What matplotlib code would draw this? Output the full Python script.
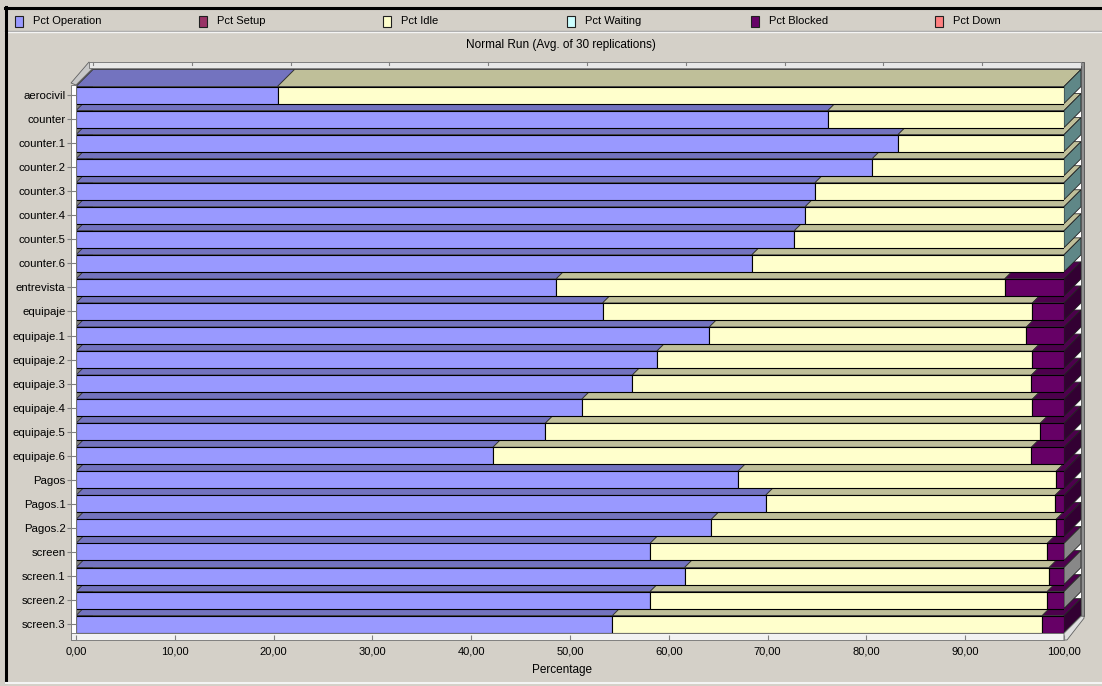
import matplotlib
matplotlib.use("Agg")
import matplotlib.pyplot as plt
from matplotlib.patches import Polygon, Rectangle
from matplotlib.lines import Line2D
from matplotlib.colors import to_rgb
import numpy as np

plt.rcParams['font.family'] = ['Liberation Sans', 'DejaVu Sans']

# data (percent of time, avg. of 30 replications)
resources = ['aerocivil', 'counter', 'counter.1', 'counter.2', 'counter.3',
             'counter.4', 'counter.5', 'counter.6', 'entrevista', 'equipaje',
             'equipaje.1', 'equipaje.2', 'equipaje.3', 'equipaje.4',
             'equipaje.5', 'equipaje.6', 'Pagos', 'Pagos.1', 'Pagos.2',
             'screen', 'screen.1', 'screen.2', 'screen.3']
pct_operation = [20.4, 76.1, 83.2, 80.6, 74.8, 73.8, 72.7, 68.4, 48.6, 53.3,
                 64.1, 58.8, 56.3, 51.2, 47.5, 42.2, 67.0, 69.8, 64.3, 58.1,
                 61.6, 58.1, 54.3]
pct_setup = [0.0, 0.0, 0.0, 0.0, 0.0, 0.0, 0.0, 0.0, 0.0, 0.0, 0.0, 0.0,
             0.0, 0.0, 0.0, 0.0, 0.0, 0.0, 0.0, 0.0, 0.0, 0.0, 0.0]
pct_idle = [79.6, 23.9, 16.8, 19.4, 25.2, 26.2, 27.3, 31.6, 45.4, 43.5,
            32.1, 38.0, 40.4, 45.6, 50.1, 54.5, 32.2, 29.3, 34.9, 40.2,
            36.9, 40.2, 43.5]
pct_waiting = [0.0, 0.0, 0.0, 0.0, 0.0, 0.0, 0.0, 0.0, 0.0, 0.0, 0.0, 0.0,
               0.0, 0.0, 0.0, 0.0, 0.0, 0.0, 0.0, 0.0, 0.0, 0.0, 0.0]
pct_blocked = [0.0, 0.0, 0.0, 0.0, 0.0, 0.0, 0.0, 0.0, 6.0, 3.2, 3.8, 3.2,
               3.3, 3.2, 2.4, 3.3, 0.8, 0.9, 0.8, 1.7, 1.5, 1.7, 2.2]
pct_down = [0.0, 0.0, 0.0, 0.0, 0.0, 0.0, 0.0, 0.0, 0.0, 0.0, 0.0, 0.0,
            0.0, 0.0, 0.0, 0.0, 0.0, 0.0, 0.0, 0.0, 0.0, 0.0, 0.0]
x_ticks = [0, 10, 20, 30, 40, 50, 60, 70, 80, 90, 100]

series = [('Pct Operation', pct_operation, '#9999ff'),
          ('Pct Setup', pct_setup, '#993366'),
          ('Pct Idle', pct_idle, '#ffffcc'),
          ('Pct Waiting', pct_waiting, '#ccffff'),
          ('Pct Blocked', pct_blocked, '#660066'),
          ('Pct Down', pct_down, '#ff8080')]

W, H = 1102, 686
BG = '#d4d0c8'

fig = plt.figure(figsize=(W / 100, H / 100), dpi=100, facecolor=BG)

# plot box in pixels: x=0 -> 76px, x=100 -> 1064px ; rows every 24.05px
ax = fig.add_axes([76 / W, 46 / H, 988 / W, 580 / H])
ax.set_facecolor('none')
PXX = 100 / 988.0
PXY = 1 / 24.05


def row(p):
    # pixel y -> row units
    return (p - 95) / 24.05


def shade(c, f):
    r, g, b = to_rgb(c)
    return (r * f, g * f, b * f)


def add(p, z):
    p.set_zorder(z)
    p.set_clip_on(False)
    ax.add_patch(p)


ax.set_xlim(0, 100)
ax.set_ylim(row(640), row(60))

n = len(resources)
y = np.arange(n)
DX = 17 * PXX
DY = 17 * PXY
HH = 17 * PXY / 2

wall_top = row(68)
floor_y = n - 1 + HH + 0.6 * PXY
floor_bot = row(640)

# walls and floor
add(Polygon([(DX, wall_top), (100 + DX, wall_top), (100 + DX, floor_y - DY),
             (DX, floor_y - DY)], fc='white', ec='none'), 1)
add(Polygon([(0, wall_top + DY), (DX, wall_top), (DX, floor_y - DY),
             (0, floor_y)], fc='#808080', ec='none'), 1.2)
add(Polygon([(0, floor_y), (100, floor_y), (100 + DX, floor_y - DY),
             (DX, floor_y - DY)], fc='#c0c0c0', ec='none'), 1.2)

# bars, drawn bottom row first so upper rows cover the top faces below
left = np.zeros(n)
for name, vals, col in series:
    vals = np.array(vals)
    bars = ax.barh(y, vals, left=left, height=2 * HH, color=col,
                   edgecolor='black', linewidth=0.8)
    for i, b in enumerate(bars):
        z = 10 + 3 * (n - i)
        b.set_zorder(z + 2)
        if vals[i] <= 0:
            b.set_visible(False)
            continue
        x0, x1 = left[i], left[i] + vals[i]
        yt = i - HH
        add(Polygon([(x0, yt), (x1, yt), (x1 + DX, yt - DY), (x0 + DX, yt - DY)],
                    fc=shade(col, 0.75), ec='#303030', lw=0.6), z)
    left += vals

for i in range(n):
    z = 10 + 3 * (n - i)
    if pct_blocked[i] > 0:
        side = '#330033'
        if resources[i] in ('screen', 'screen.1', 'screen.2'):
            side = '#888888'
    else:
        side = '#5f8787'
    x1 = left[i]
    add(Polygon([(x1, i - HH), (x1, i + HH), (x1 + DX, i + HH - DY),
                 (x1 + DX, i - HH - DY)], fc=side, ec='#202020', lw=0.6), z + 1)

# frame pieces (wall thickness)
add(Rectangle((-5 * PXX, wall_top + DY), 5 * PXX, floor_bot - wall_top - DY,
              fc='white', ec='#707070', lw=0.6), 100)
add(Polygon([(-5 * PXX, row(83)), (0, wall_top + DY), (DX, wall_top),
             (DX - 4 * PXX, row(62))], fc='#c8c8c8', ec='#606060', lw=0.6), 100)
add(Rectangle((DX - 4 * PXX, row(62)), 100 + 4 * PXX, wall_top - row(62),
              fc='#e8e8e8', ec='#707070', lw=0.6), 100)
add(Rectangle((100 + DX, row(62)), 3 * PXX, floor_y - DY - row(62),
              fc='#909090', ec='#505050', lw=0.6), 100)
add(Rectangle((-5 * PXX, floor_y), 100 + 5 * PXX, floor_bot - floor_y,
              fc='#f2f2f2', ec='#707070', lw=0.6), 100)
add(Polygon([(100, floor_y), (100 + DX, floor_y - DY),
             (100 + DX + 3 * PXX, floor_y - DY), (100 + DX + 3 * PXX, floor_y - DY + 2 * PXY),
             (100 + 3 * PXX, floor_bot), (100, floor_bot)],
            fc='#e0e0e0', ec='#606060', lw=0.6), 100)
for v in x_ticks:
    ax.plot([v + DX, v + DX], [row(62), row(65)], color='#808080', lw=0.8,
            zorder=101, clip_on=False)

for s in ax.spines.values():
    s.set_visible(False)
ax.xaxis.set_zorder(200)
ax.yaxis.set_zorder(200)

ax.set_xticks(x_ticks)
ax.set_xticklabels([('%.2f' % v).replace('.', ',') for v in x_ticks], fontsize=8)
ax.tick_params(axis='x', direction='in', length=3.5, color='#808080', pad=5)
ax.set_yticks(y)
ax.set_yticklabels(resources, fontsize=8.2)
ax.tick_params(axis='y', direction='out', length=6.5, color='#808080', pad=1)
ax.set_xlabel('Percentage', fontsize=8.5)
ax.xaxis.set_label_coords((562 - 76) / 988, (640 - 664) / 580)

# title
fig.text(561 / W, 1 - 45 / H, 'Normal Run (Avg. of 30 replications)',
         ha='center', va='center', fontsize=8.5)

# legend strip
for k, (name, vals, col) in enumerate(series):
    lx = 15 + 184 * k
    fig.add_artist(Rectangle((lx / W, 1 - 27 / H), 8 / W, 11 / H, fc=col,
                             ec='#202020', lw=0.8, transform=fig.transFigure))
    fig.text((lx + 18) / W, 1 - 20.5 / H, name, ha='left', va='center',
             fontsize=8)

fig.add_artist(Line2D([5 / W, 1], [1 - 30.5 / H] * 2, color='#a0a0a0', lw=1))
fig.add_artist(Line2D([5 / W, 1], [1 - 31.5 / H] * 2, color='#f4f4f4', lw=1))
fig.add_artist(Line2D([5 / W, 1], [1 - 7.5 / H] * 2, color='black', lw=2.2))
fig.add_artist(Line2D([6 / W] * 2, [1 - 6.5 / H, 1 - 682 / H], color='black', lw=2.2))
fig.add_artist(Line2D([6 / W, 1], [1 - 683 / H] * 2, color='#f4f4f4', lw=1.5))

fig.savefig('out.png', dpi=100, facecolor=BG)
